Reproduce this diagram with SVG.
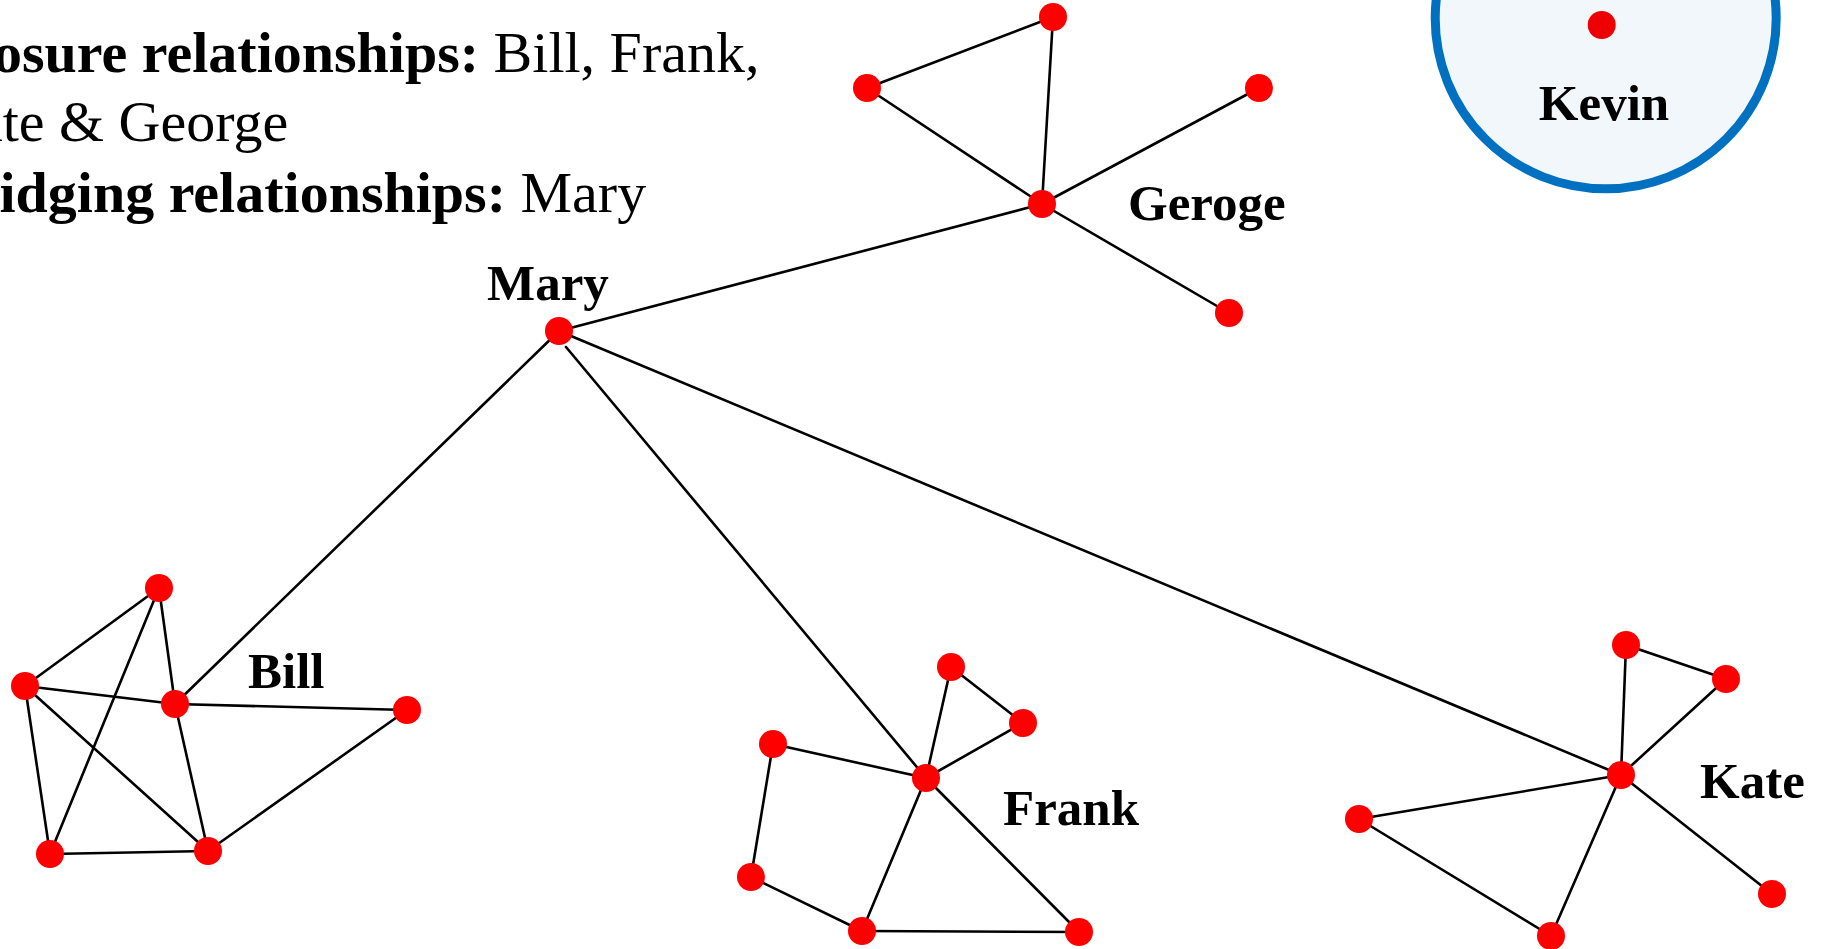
<svg xmlns="http://www.w3.org/2000/svg" width="1825" height="949" viewBox="0 0 1825 949">
  <style>
    .edge { stroke: #000000; stroke-width: 2.6; fill: none; stroke-linecap: round; }
    .node { fill: #FF0000; }
    .label { font-family: "Liberation Serif", "Times New Roman", serif; font-weight: bold; font-size: 51px; fill: #000000; }
    .legend { font-family: "Liberation Serif", "Times New Roman", serif; font-size: 58px; fill: #000000; }
    .b { font-weight: bold; }
  </style>
  <rect x="0" y="0" width="1825" height="949" fill="#FFFFFF"/>

  <g id="legend">
    <text class="legend" x="-65" y="71.5"><tspan class="b">Closure relationships:</tspan> Bill, Frank,</text>
    <text class="legend" x="-65" y="141">Kate &amp; George</text>
    <text class="legend" x="-65" y="212"><tspan class="b">Bridging relationships:</tspan> Mary</text>
  </g>

  <g id="kevin-group">
    <circle cx="1605.7" cy="18.3" r="170.5" fill="#F2F7FC" stroke="#0070C0" stroke-width="9"/>
    <circle id="kevin" cx="1601.7" cy="25" r="14" fill="#EE0000"/>
    <text class="label" x="1604" y="120" text-anchor="middle">Kevin</text>
  </g>

  <g id="connectors">
    <!-- George cluster -->
    <line class="edge" x1="867" y1="88" x2="1053" y2="17"/>
    <line class="edge" x1="1053" y1="17" x2="1042" y2="204"/>
    <line class="edge" x1="867" y1="88" x2="1042" y2="204"/>
    <line class="edge" x1="1042" y1="204" x2="1259" y2="88"/>
    <line class="edge" x1="1042" y1="204" x2="1229" y2="313"/>
    <!-- Mary bridges -->
    <line class="edge" x1="559" y1="331" x2="1042" y2="204"/>
    <line class="edge" x1="559" y1="331" x2="175" y2="704"/>
    <line class="edge" x1="566" y1="347" x2="926" y2="778"/>
    <line class="edge" x1="559" y1="331" x2="1621" y2="775"/>
    <!-- Bill cluster -->
    <line class="edge" x1="159" y1="588" x2="25" y2="686"/>
    <line class="edge" x1="159" y1="588" x2="50" y2="854"/>
    <line class="edge" x1="159" y1="588" x2="175" y2="704"/>
    <line class="edge" x1="25" y1="686" x2="175" y2="704"/>
    <line class="edge" x1="25" y1="686" x2="50" y2="854"/>
    <line class="edge" x1="25" y1="686" x2="208" y2="851"/>
    <line class="edge" x1="175" y1="704" x2="407" y2="710"/>
    <line class="edge" x1="175" y1="704" x2="208" y2="851"/>
    <line class="edge" x1="50" y1="854" x2="208" y2="851"/>
    <line class="edge" x1="208" y1="851" x2="407" y2="710"/>
    <!-- Frank cluster -->
    <line class="edge" x1="926" y1="778" x2="951" y2="667"/>
    <line class="edge" x1="951" y1="667" x2="1023" y2="723"/>
    <line class="edge" x1="1023" y1="723" x2="926" y2="778"/>
    <line class="edge" x1="926" y1="778" x2="773" y2="744"/>
    <line class="edge" x1="773" y1="744" x2="751" y2="877"/>
    <line class="edge" x1="751" y1="877" x2="862" y2="931"/>
    <line class="edge" x1="862" y1="931" x2="926" y2="778"/>
    <line class="edge" x1="862" y1="931" x2="1079" y2="932"/>
    <line class="edge" x1="926" y1="778" x2="1079" y2="932"/>
    <!-- Kate cluster -->
    <line class="edge" x1="1626" y1="645" x2="1621" y2="775"/>
    <line class="edge" x1="1626" y1="645" x2="1726" y2="679"/>
    <line class="edge" x1="1726" y1="679" x2="1621" y2="775"/>
    <line class="edge" x1="1621" y1="775" x2="1359" y2="819"/>
    <line class="edge" x1="1359" y1="819" x2="1551" y2="936"/>
    <line class="edge" x1="1551" y1="936" x2="1621" y2="775"/>
    <line class="edge" x1="1621" y1="775" x2="1772" y2="894"/>
  </g>

  <g id="mary">
    <circle class="node" cx="559" cy="331" r="14"/>
    <text class="label" x="487" y="300">Mary</text>
  </g>

  <g id="george">
    <circle class="node" cx="1042" cy="204" r="14"/>
    <circle class="node" cx="1053" cy="17" r="14"/>
    <circle class="node" cx="867" cy="88" r="14"/>
    <circle class="node" cx="1259" cy="88" r="14"/>
    <circle class="node" cx="1229" cy="313" r="14"/>
    <text class="label" x="1128" y="220">Geroge</text>
  </g>

  <g id="bill">
    <circle class="node" cx="175" cy="704" r="14"/>
    <circle class="node" cx="159" cy="588" r="14"/>
    <circle class="node" cx="25" cy="686" r="14"/>
    <circle class="node" cx="407" cy="710" r="14"/>
    <circle class="node" cx="50" cy="854" r="14"/>
    <circle class="node" cx="208" cy="851" r="14"/>
    <text class="label" x="248" y="688">Bill</text>
  </g>

  <g id="frank">
    <circle class="node" cx="926" cy="778" r="14"/>
    <circle class="node" cx="951" cy="667" r="14"/>
    <circle class="node" cx="1023" cy="723" r="14"/>
    <circle class="node" cx="773" cy="744" r="14"/>
    <circle class="node" cx="751" cy="877" r="14"/>
    <circle class="node" cx="862" cy="931" r="14"/>
    <circle class="node" cx="1079" cy="932" r="14"/>
    <text class="label" x="1003" y="825">Frank</text>
  </g>

  <g id="kate">
    <circle class="node" cx="1621" cy="775" r="14"/>
    <circle class="node" cx="1626" cy="645" r="14"/>
    <circle class="node" cx="1726" cy="679" r="14"/>
    <circle class="node" cx="1359" cy="819" r="14"/>
    <circle class="node" cx="1551" cy="936" r="14"/>
    <circle class="node" cx="1772" cy="894" r="14"/>
    <text class="label" x="1700" y="798">Kate</text>
  </g>
</svg>
